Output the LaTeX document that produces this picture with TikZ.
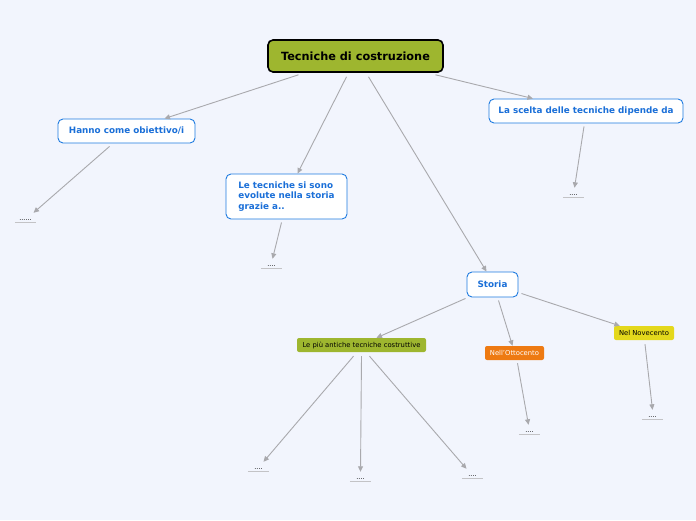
\documentclass[tikz,border=0pt]{standalone}
\usepackage{fontspec}
\setmainfont{DejaVu Sans}
\usetikzlibrary{arrows.meta}

\definecolor{bgcol}{HTML}{F2F5FD}
\definecolor{olive}{HTML}{9EB62F}
\definecolor{orangebox}{HTML}{EE7A12}
\definecolor{yellowbox}{HTML}{E4D81C}
\definecolor{bluebox}{HTML}{1E7BE0}
\definecolor{bluetext}{HTML}{1A6FD8}
\definecolor{linkgray}{HTML}{A9A9AD}

\tikzset{
  mainbox/.style={draw=black, line width=1.6pt, fill=olive, rounded corners=5pt,
    minimum width=175pt, minimum height=32pt, font=\fontsize{11.3}{13}\selectfont\bfseries},
  topicbox/.style={draw=bluebox, line width=0.9pt, fill=white, rounded corners=5pt,
    text=bluetext, inner sep=4pt, font=\fontsize{8.8}{10.5}\selectfont\bfseries},
  tagbox/.style={rounded corners=2pt, inner sep=0pt, minimum height=14pt,
    font=\fontsize{6.8}{8}\selectfont},
  leaf/.style={inner sep=1.5pt, minimum width=21pt, anchor=south,
    font=\fontsize{6.5}{7}\selectfont},
  leafline/.style={draw=linkgray!70, line width=1pt},
  link/.style={draw=linkgray, line width=0.9pt, -{Triangle[length=5.5pt,width=5pt]}}
}

\begin{document}
\begin{tikzpicture}[x=1pt, y=-1pt]

% Background
\fill[bgcol] (0,0) rectangle (696,520);
\useasboundingbox (0,0) rectangle (696,520);

% Central topic
\node[mainbox] (title) at (355.5,56) {Tecniche di costruzione};

% Main topics
\node[topicbox, minimum width=137pt, minimum height=24pt] (obiettivo) at (126.5,131) {Hanno come obiettivo/i};
\node[topicbox, align=left, minimum width=121pt, minimum height=45pt] (evolute) at (286.5,196.5)
  {Le tecniche si sono\\evolute nella storia\\grazie a..};
\node[topicbox, minimum width=194pt, minimum height=24pt] (scelta) at (586,111) {La scelta delle tecniche dipende da};
\node[topicbox, minimum width=51pt, minimum height=25pt] (storia) at (492.5,284.5) {Storia};

% Sub topics of Storia
\node[tagbox, fill=olive, minimum width=129pt] (antiche) at (361.5,345) {Le più antiche tecniche costruttive};
\node[tagbox, fill=orangebox, text=white, minimum width=59pt] (ottocento) at (514.5,353) {Nell'Ottocento};
\node[tagbox, fill=yellowbox, minimum width=60pt] (novecento) at (644,333) {Nel Novecento};

% Leaves
\node[leaf] (l1) at (25.5,222) {......};
\node[leaf] (l2) at (271.5,268) {....};
\node[leaf] (l3) at (573.5,197) {....};
\node[leaf] (l4) at (258.5,471) {....};
\node[leaf] (l5) at (360.5,481) {....};
\node[leaf] (l6) at (472.5,478) {....};
\node[leaf] (l7) at (529.5,434) {....};
\node[leaf] (l8) at (652.5,419) {....};
\foreach \n in {l1,l2,l3,l4,l5,l6,l7,l8}
  \draw[leafline] (\n.south west) -- (\n.south east);

% Connectors from central topic
\draw[link] ([xshift=-57pt,yshift=-2pt]title.south) -- ([xshift=38pt]obiettivo.north);
\draw[link] ([xshift=-9pt,yshift=-4pt]title.south) -- ([xshift=11pt]evolute.north);
\draw[link] ([xshift=13pt,yshift=-4pt]title.south) -- ([xshift=-6pt]storia.north);
\draw[link] ([xshift=80pt,yshift=-2pt]title.south) -- ([xshift=-53pt]scelta.north);

% Connectors from main topics
\draw[link] ([xshift=-17pt,yshift=-3pt]obiettivo.south) -- ([xshift=8pt,yshift=5pt]l1.north);
\draw[link] ([xshift=-5pt,yshift=-3pt]evolute.south) -- ([xshift=1pt,yshift=5pt]l2.north);
\draw[link] ([xshift=-2pt,yshift=-3pt]scelta.south) -- ([xshift=1pt,yshift=5pt]l3.north);
\draw[link] ([xshift=-27pt,yshift=-1pt]storia.south) -- ([xshift=15pt]antiche.north);
\draw[link] ([xshift=6pt,yshift=-3pt]storia.south) -- ([xshift=-2pt]ottocento.north);
\draw[link] ([xshift=3pt,yshift=-9pt]storia.east) -- ([xshift=6pt]novecento.north west);

% Connectors from sub topics
\draw[link] ([xshift=-8pt,yshift=-4pt]antiche.south) -- ([xshift=5pt,yshift=5pt]l4.north);
\draw[link] ([yshift=-4pt]antiche.south) -- ([yshift=5pt]l5.north);
\draw[link] ([xshift=8pt,yshift=-4pt]antiche.south) -- ([xshift=-6pt,yshift=5pt]l6.north);
\draw[link] ([xshift=3pt,yshift=-3pt]ottocento.south) -- ([xshift=-1pt,yshift=5pt]l7.north);
\draw[link] ([xshift=1pt,yshift=-4pt]novecento.south) -- ([yshift=5pt]l8.north);

\end{tikzpicture}
\end{document}
